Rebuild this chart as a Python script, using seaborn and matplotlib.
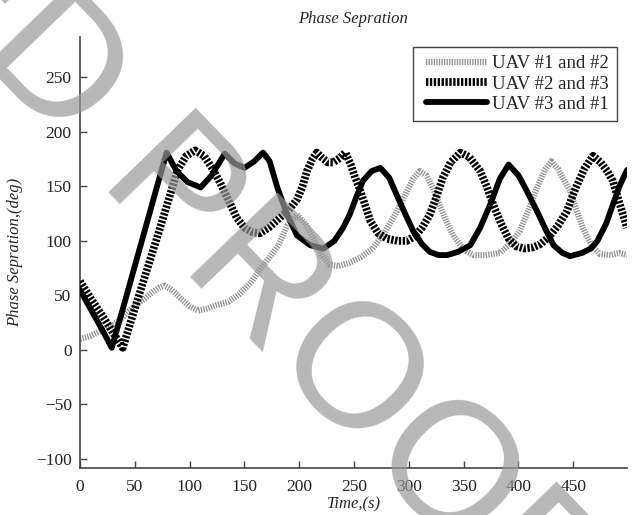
import matplotlib
matplotlib.use("Agg")
import matplotlib.pyplot as plt
from matplotlib.lines import Line2D
from matplotlib.legend_handler import HandlerLine2D
import seaborn as sns

# UAV #1 and #2 (light grey, hatched)
t_12 = [0, 10, 20, 28, 36, 45, 52, 59, 66, 72, 77, 84, 92, 100, 108, 116, 124, 135, 145,
        156, 165, 173, 181, 189, 198, 206, 213, 220, 228, 236, 246, 256, 267, 278, 289,
        297, 304, 310, 316, 322, 328, 335, 341, 347, 353, 359, 370, 383, 392, 401, 409,
        417, 424, 430, 436, 442, 447, 453, 459, 466, 474, 484, 492, 499]
phase_12 = [10, 13, 18, 22, 27, 36, 42, 47, 53, 57, 59, 55, 47, 40, 36, 38, 41, 44, 51,
            62, 75, 85, 96, 114, 124, 115, 102, 88, 78, 77, 80, 85, 93, 108, 127,
            143, 157, 164, 160, 148, 133, 116, 104, 96, 90, 87, 87, 89, 97, 109, 128,
            149, 165, 173, 166, 155, 146, 128, 111, 97, 88, 87, 89, 87]

# UAV #2 and #3 (black, hatched)
t_23 = [0, 10, 20, 30, 39, 50, 60, 70, 80, 89, 97, 105, 113, 121, 128, 136, 143, 150,
        157, 164, 172, 182, 190, 198, 203, 207, 212, 216, 221, 226, 231, 237, 242, 247,
        251, 255, 260, 265, 272, 280, 290, 298, 305, 312, 319, 325, 331, 338, 347, 355,
        365, 371, 377, 384, 391, 398, 405, 413, 420, 428, 436, 444, 452, 460, 468, 475,
        481, 486, 492, 499]
phase_23 = [63, 47, 32, 16, 2, 38, 70, 102, 135, 165, 178, 183, 178, 166, 153, 136, 121, 112,
            108, 107, 112, 121, 128, 138, 150, 164, 175, 181, 176, 172, 172, 176, 181, 170,
            158, 148, 133, 118, 107, 102, 100, 100, 104, 112, 124, 140, 158, 172, 181, 177,
            164, 150, 133, 116, 102, 95, 93, 94, 97, 104, 114, 127, 148, 166, 178, 172,
            164, 155, 135, 112]

# UAV #3 and #1 (black, solid)
t_31 = [0, 10, 20, 29, 40, 50, 60, 70, 79, 88, 98, 110, 120, 132, 141, 150, 159, 167,
        173, 180, 189, 198, 210, 222, 232, 240, 246, 252, 258, 266, 274, 282, 289, 297,
        304, 312, 319, 327, 335, 345, 356, 365, 374, 383, 391, 400, 408, 417, 425, 432,
        440, 447, 458, 466, 472, 480, 486, 492, 499]
phase_31 = [55, 37, 19, 2, 41, 77, 113, 149, 181, 164, 154, 149, 160, 180, 171, 167, 173, 181,
            173, 149, 124, 105, 96, 93, 100, 112, 124, 140, 155, 164, 167, 158, 142, 124,
            109, 97, 90, 87, 87, 90, 96, 112, 133, 157, 170, 160, 145, 127, 110, 96,
            89, 86, 89, 93, 100, 116, 133, 150, 165]

x_ticks = [0, 50, 100, 150, 200, 250, 300, 350, 400, 450]
y_ticks = [-100, -50, 0, 50, 100, 150, 200, 250]

sns.set_style("ticks")
plt.rcParams["font.family"] = ["Liberation Serif", "DejaVu Serif"]

fig = plt.figure(figsize=(6.38, 5.15), dpi=100)
ax = fig.add_axes([0.1254, 0.0918, 0.8574, 0.8364])

sns.lineplot(x=t_12, y=phase_12, ax=ax, color="#949494", lw=4.4,
             linestyle=(0, (0.22, 0.2)), label="UAV #1 and #2", zorder=2)
sns.lineplot(x=t_23, y=phase_23, ax=ax, color="black", lw=5.6,
             linestyle=(0, (0.3, 0.2)), label="UAV #2 and #3", zorder=3)
sns.lineplot(x=t_31, y=phase_31, ax=ax, color="black", lw=4.2,
             label="UAV #3 and #1", zorder=4)

ax.set_xlim(0, 499)
ax.set_ylim(-108, 287)
ax.set_xticks(x_ticks)
ax.set_yticks(y_ticks)
ax.tick_params(direction="in", length=5, width=1, color="#444444",
               labelsize=12.5, labelcolor="#222222")
ax.tick_params(axis="y", pad=6)
ax.tick_params(axis="x", pad=8)
for side in ["top", "right"]:
    ax.spines[side].set_visible(False)
for side in ["left", "bottom"]:
    ax.spines[side].set_color("#444444")
    ax.spines[side].set_linewidth(1.2)

ax.set_title("Phase Sepration", fontsize=12, fontstyle="italic", pad=10)
ax.set_xlabel("Time,(s)", fontsize=12, fontstyle="italic", labelpad=1)
ax.set_ylabel("Phase Sepration,(deg)", fontsize=12, fontstyle="italic", labelpad=9)

leg = ax.legend(loc="upper right", bbox_to_anchor=(0.982, 0.977), fontsize=13.5,
                frameon=True, fancybox=False, edgecolor="#444444", framealpha=1,
                handlelength=3.52, handletextpad=0.27, borderpad=0.44,
                labelspacing=0.17, borderaxespad=0,
                handler_map={Line2D: HandlerLine2D(xpad=0.27)})
leg.get_frame().set_linewidth(1.0)

# watermark
fig.text(0.888, -0.167, "UNCORRECTED PROOF", transform=fig.transFigure,
         fontsize=127, family="Liberation Sans", color="#999999", alpha=0.7,
         rotation=-46, rotation_mode="anchor", ha="right", va="center", zorder=10)

fig.savefig("out.png", dpi=100)
